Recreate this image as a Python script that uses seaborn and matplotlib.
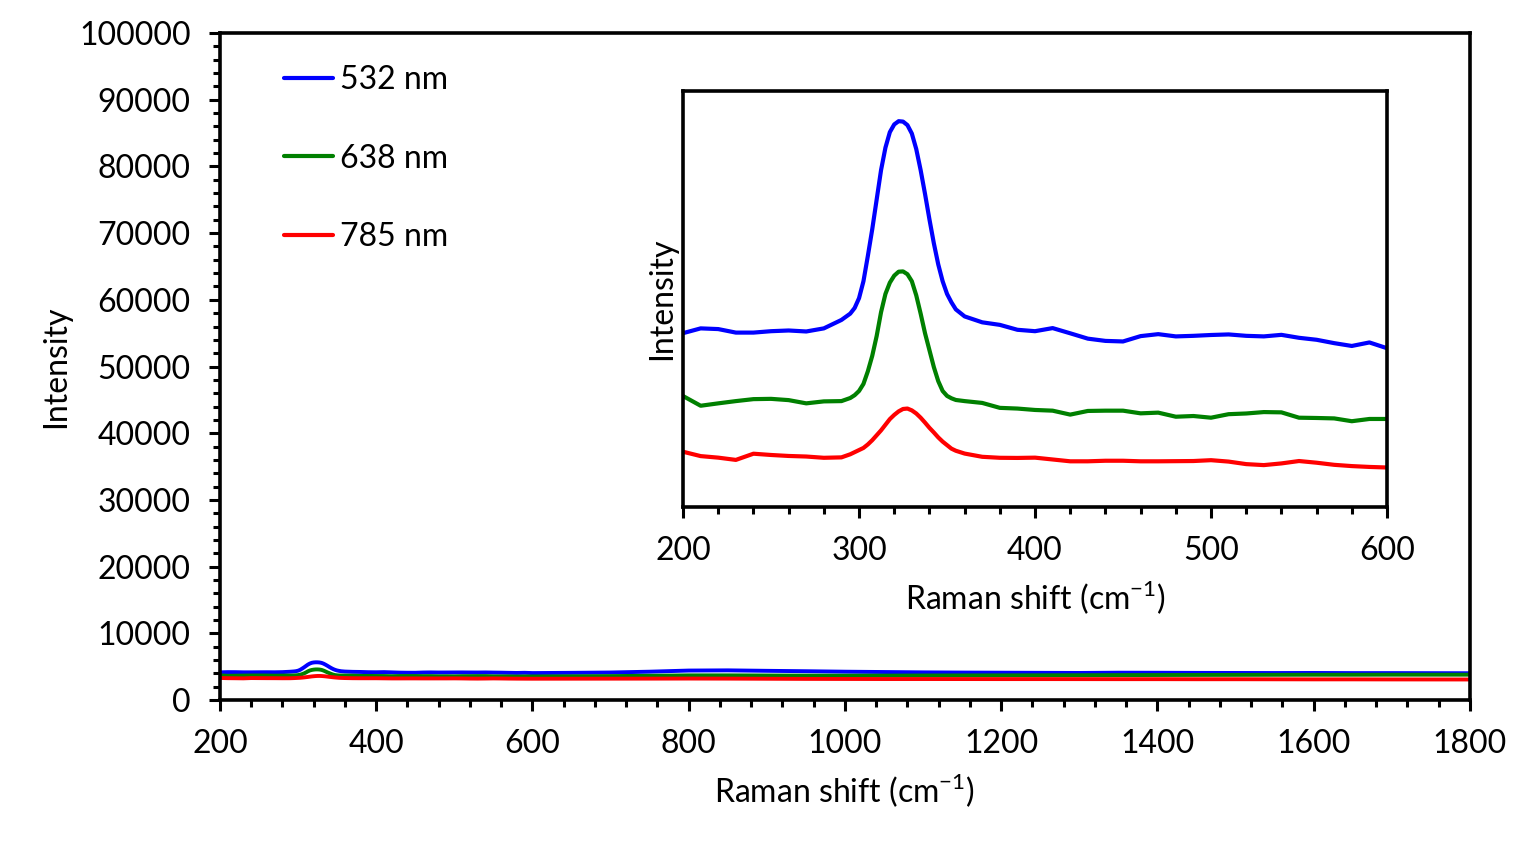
import numpy as np
import pandas as pd
import matplotlib
matplotlib.use("Agg")
import matplotlib.pyplot as plt
from matplotlib.ticker import MultipleLocator
import seaborn as sns

# ---------------- data ----------------
shift = [200, 210, 220, 230, 240, 250, 260, 270, 280, 290,
         295, 297.5, 300, 302.5, 305, 307.5, 310, 312.5, 315, 317.5, 320, 322.5,
         325, 327.5, 330, 332.5, 335, 337.5, 340, 342.5, 345, 347.5, 350, 352.5, 355, 360,
         370, 380, 390, 400, 410, 420, 430, 440, 450, 460, 470, 480, 490, 500,
         510, 520, 530, 540, 550, 560, 570, 580, 590, 600,
         650, 700, 750, 800, 850, 900, 950, 1000, 1050, 1100, 1150, 1200,
         1250, 1300, 1350, 1400, 1450, 1500, 1550, 1600, 1650, 1700, 1750, 1800]

int_532 = [4151, 4185, 4180, 4155, 4155, 4165, 4170, 4163, 4185, 4245,
           4290, 4330, 4400, 4520, 4700, 4890, 5100, 5310, 5470, 5580, 5635, 5658,
           5655, 5630, 5570, 5460, 5310, 5140, 4960, 4790, 4640, 4520, 4430, 4370, 4320, 4270,
           4228, 4210, 4175, 4165, 4187, 4150, 4112, 4096, 4092, 4130, 4144, 4128, 4132, 4138,
           4142, 4132, 4128, 4139, 4118, 4104, 4080, 4060, 4085, 4044,
           4080, 4130, 4250, 4420, 4450, 4380, 4320, 4250, 4200, 4150, 4120, 4100,
           4080, 4060, 4100, 4090, 4070, 4060, 4050, 4060, 4040, 4040, 4030, 4020]

int_638 = [3704, 3635, 3652, 3668, 3682, 3684, 3675, 3652, 3666, 3668,
           3690, 3710, 3740, 3790, 3880, 3990, 4130, 4300, 4430, 4510, 4560, 4588,
           4590, 4570, 4520, 4420, 4290, 4150, 4030, 3910, 3810, 3740, 3705, 3688, 3676, 3668,
           3655, 3620, 3615, 3605, 3600, 3572, 3598, 3600, 3600, 3581, 3586, 3557, 3562, 3550,
           3575, 3580, 3590, 3588, 3550, 3548, 3545, 3525, 3541, 3541,
           3560, 3590, 3640, 3700, 3700, 3680, 3660, 3650, 3660, 3680, 3690, 3700,
           3710, 3720, 3740, 3750, 3760, 3770, 3780, 3790, 3790, 3800, 3800, 3800]

int_785 = [3308, 3277, 3266, 3250, 3294, 3285, 3278, 3274, 3265, 3268,
           3290, 3305, 3320, 3335, 3360, 3390, 3425, 3460, 3500, 3540, 3570, 3595,
           3612, 3615, 3602, 3580, 3550, 3515, 3478, 3445, 3410, 3380, 3355, 3330, 3315, 3295,
           3272, 3265, 3264, 3266, 3253, 3240, 3240, 3244, 3244, 3240, 3240, 3241, 3242, 3248,
           3238, 3220, 3213, 3225, 3242, 3230, 3215, 3206, 3200, 3196,
           3200, 3205, 3210, 3220, 3210, 3190, 3170, 3160, 3150, 3150, 3145, 3140,
           3140, 3135, 3130, 3130, 3120, 3120, 3110, 3100, 3100, 3090, 3085, 3080]

labels = ["532 nm", "638 nm", "785 nm"]
colors = ["#0000ff", "#008000", "#ff0000"]

df = pd.DataFrame({"shift": shift * 3,
                   "intensity": int_532 + int_638 + int_785,
                   "laser": [labels[0]] * len(shift) + [labels[1]] * len(shift) + [labels[2]] * len(shift)})
palette = dict(zip(labels, colors))

# ---------------- style ----------------
sns.set_theme(style="ticks")
plt.rcParams["font.family"] = ["Lato", "DejaVu Sans"]
plt.rcParams["mathtext.fontset"] = "custom"
plt.rcParams["mathtext.rm"] = "Lato"
for k in ["text.color", "axes.labelcolor", "xtick.color", "ytick.color"]:
    plt.rcParams[k] = "black"
plt.rcParams["lines.solid_joinstyle"] = "round"
plt.rcParams["lines.solid_capstyle"] = "round"
FS = 23

fig = plt.figure(figsize=(15.36, 8.42), dpi=100)
ax = fig.add_axes([0.1432, 0.1686, 0.8138, 0.7922])

sns.lineplot(data=df, x="shift", y="intensity", hue="laser", palette=palette,
             hue_order=labels, linewidth=2.8, ax=ax, sort=False, estimator=None)

ax.set_xlim(200, 1800)
ax.set_ylim(0, 100000)
ax.xaxis.set_major_locator(MultipleLocator(200))
ax.xaxis.set_minor_locator(MultipleLocator(40))
ax.yaxis.set_major_locator(MultipleLocator(10000))
ax.yaxis.set_minor_locator(MultipleLocator(2000))
ax.tick_params(axis="both", which="major", direction="out", length=8, width=2.2,
               labelsize=FS)
ax.tick_params(axis="y", which="major", pad=13)
ax.tick_params(axis="x", which="major", pad=13)
ax.tick_params(axis="both", which="minor", direction="out", length=5, width=2.2)
for s in ax.spines.values():
    s.set_linewidth(2.6)
    s.set_color("black")
ax.set_xlabel("Raman shift (cm$^{-1}$)", fontsize=FS, labelpad=9)
ax.set_ylabel("Intensity", fontsize=FS, labelpad=6)

leg = ax.legend(loc="upper left", bbox_to_anchor=(0.028, 0.995), frameon=False,
                fontsize=FS, handlelength=1.55, handletextpad=0.2,
                labelspacing=1.52)
for line in leg.get_lines():
    line.set_linewidth(3)

# ---------------- inset ----------------
inset = fig.add_axes([0.4447, 0.398, 0.4583, 0.494])
sub = df[df["shift"] <= 600]
sns.lineplot(data=sub, x="shift", y="intensity", hue="laser", palette=palette,
             hue_order=labels, linewidth=3, ax=inset, legend=False, sort=False,
             estimator=None)
inset.set_xlim(200, 600)
inset.set_ylim(2916, 5873)
inset.xaxis.set_major_locator(MultipleLocator(100))
inset.xaxis.set_minor_locator(MultipleLocator(20))
inset.set_yticks([])
inset.tick_params(axis="x", which="major", direction="out", length=8, width=2.2,
                  labelsize=FS, pad=13)
inset.tick_params(axis="x", which="minor", direction="out", length=5, width=2.2)
for s in inset.spines.values():
    s.set_linewidth(2.6)
    s.set_color("black")
inset.set_xlabel("Raman shift (cm$^{-1}$)", fontsize=FS, labelpad=9)
inset.set_ylabel("Intensity", fontsize=FS, labelpad=4)

fig.savefig("out.png", dpi=100)
